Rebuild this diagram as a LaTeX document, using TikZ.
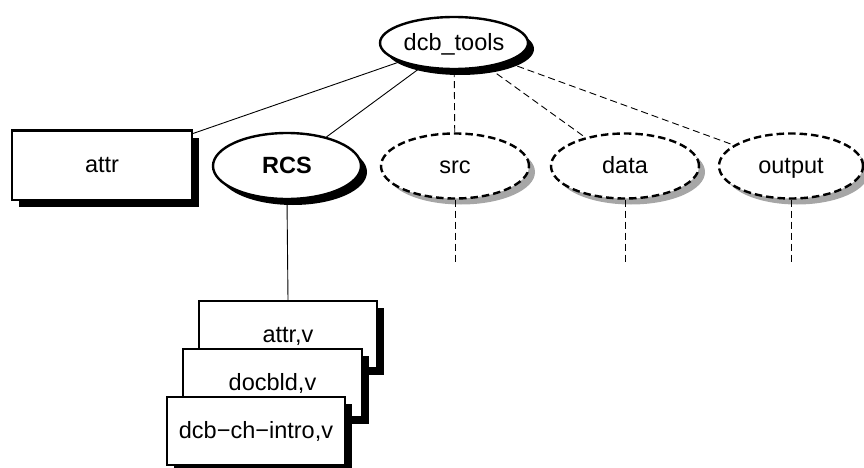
\documentclass[tikz,border=0pt]{standalone}
\usepackage{fontspec}
\setmainfont{Liberation Sans}
\usetikzlibrary{shapes.geometric,shadows}
\begin{document}
\begin{tikzpicture}[x=1pt,y=-1pt,
  every node/.style={font=\fontsize{23.5}{28}\selectfont, inner sep=0pt, text height=15.5pt, text depth=0pt},
  solidell/.style={ellipse, draw, line width=2.4pt, fill=white,
    general shadow={fill=black, shadow xshift=6pt, shadow yshift=-6pt}},
  dashell/.style={ellipse, draw, line width=2.4pt, dash pattern=on 7.5pt off 4pt, fill=white,
    general shadow={fill=black!35, shadow xshift=6pt, shadow yshift=-6pt}},
  boxnode/.style={rectangle, draw, line width=2pt, fill=white,
    general shadow={fill=black, shadow xshift=7pt, shadow yshift=-7pt}},
  conn/.style={line width=0.9pt},
  dconn/.style={line width=0.9pt, dash pattern=on 7pt off 4pt}]
\useasboundingbox (0,0) rectangle (864,468);
\node[solidell, minimum width=148pt, minimum height=52pt] (dcb) at (454,43) {dcb\_tools};
\node[boxnode, minimum width=180pt, minimum height=69pt] (attr) at (102,165) {attr};
\node[solidell, minimum width=148pt, minimum height=66pt, font=\fontsize{23.5}{28}\selectfont\bfseries] (rcs) at (287,166) {RCS};
\node[dashell, minimum width=148pt, minimum height=65pt] (src) at (455,166) {src};
\node[dashell, minimum width=148pt, minimum height=65pt] (data) at (625,166) {data};
\node[dashell, minimum width=144pt, minimum height=65pt] (output) at (791,166) {output};
\coordinate (srcend) at (455,262);
\coordinate (dataend) at (625,262);
\coordinate (outputend) at (791,262);
\node[boxnode, minimum width=178pt, minimum height=67pt] (attrv) at (288,334.5) {attr,v};
\node[boxnode, minimum width=179pt, minimum height=68pt] (docbld) at (272.5,383) {docbld,v};
\node[boxnode, minimum width=178pt, minimum height=68pt] (intro) at (256,431) {dcb−ch−intro,v};
\draw[conn] (dcb) -- (attr);
\draw[conn] (dcb) -- (rcs);
\draw[dconn] (dcb) -- (src);
\draw[dconn] (dcb) -- (data);
\draw[dconn] (dcb) -- (output);
\draw[dconn] (src.south) -- (srcend);
\draw[dconn] (data.south) -- (dataend);
\draw[dconn] (output.south) -- (outputend);
\draw[conn] (rcs.south) -- (attrv.north);
\end{tikzpicture}
\end{document}
